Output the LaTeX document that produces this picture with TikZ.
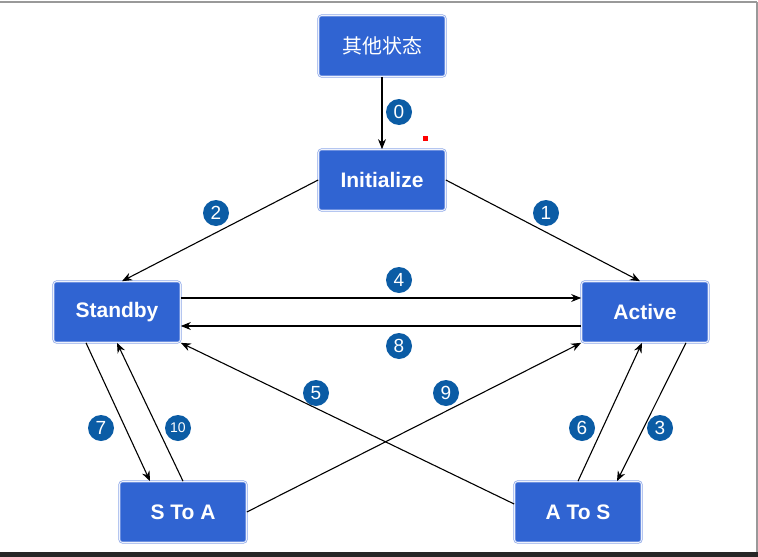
\documentclass[tikz,border=0pt]{standalone}
\usepackage{fontspec}
\setmainfont{Liberation Sans}
\newfontfamily\cjk{Noto Sans CJK SC}
\usetikzlibrary{arrows.meta}
\definecolor{boxblue}{HTML}{3064D2}
\definecolor{boxedge}{HTML}{8EA8E8}
\definecolor{tagblue}{HTML}{0B5CA5}
\tikzset{
  state/.style={rectangle, rounded corners=3pt, fill=boxblue, draw=boxedge,
    line width=0.7pt, double=white!85!boxedge, double distance=0.7pt,
    minimum width=127pt, minimum height=61pt, inner sep=0pt,
    text=white, font=\fontsize{21}{24}\selectfont\bfseries},
  tag/.style={circle, fill=tagblue, text=white, inner sep=0pt,
    minimum size=26pt, font=\fontsize{19}{20}\selectfont},
  conn/.style={line width=1.1pt, -{Stealth[length=10pt,width=8pt]}}
}
\begin{document}
\begin{tikzpicture}[x=1pt,y=-1pt]
\useasboundingbox (0,0) rectangle (758,557);
\fill[white] (0,0) rectangle (758,557);
% frame
\draw[gray!80, line width=1.5pt] (0,2) -- (757,2);
\draw[gray!80, line width=1.5pt] (757,2) -- (757,552);
\fill[black!85] (0,552) rectangle (758,557);
% nodes
\node[state, font=\cjk\fontsize{20}{22}\selectfont] (other) at (382,46) {其他状态};
\node[state] (init) at (382,180) {Initialize};
\node[state] (standby) at (117,312) {Standby};
\node[state] (active) at (645,312) {Active};
\node[state] (stoa) at (183,512) {S To A};
\node[state] (atos) at (578,512) {A To S};
% connectors
\draw[conn] (other.south) -- (init.north);
\draw[conn] (init.east) -- ([xshift=-5pt]active.north);
\draw[conn] (init.west) -- ([xshift=5pt]standby.north);
\draw[conn] ([yshift=14pt]standby.east) -- ([yshift=14pt]active.west);
\draw[conn] ([yshift=-14pt]active.west) -- ([yshift=-14pt]standby.east);
\draw[conn] ([yshift=8pt]atos.west) -- (standby.south east);
\draw[conn] (stoa.east) -- (active.south west);
\draw[conn] ([xshift=-31pt]standby.south) -- ([xshift=-33pt]stoa.north);
\draw[conn] (stoa.north) -- (standby.south);
\draw[conn] (atos.north) -- ([xshift=-3pt]active.south);
\draw[conn] ([xshift=41pt]active.south) -- ([xshift=39pt]atos.north);
% tags
\node[tag] (t0) at (399,112) {0};
\node[tag] (t1) at (546,213) {1};
\node[tag] (t2) at (216,213) {2};
\node[tag] (t4) at (399,280) {4};
\node[tag] (t8) at (399,346) {8};
\node[tag] (t5) at (316,393) {5};
\node[tag] (t9) at (446,393) {9};
\node[tag] (t7) at (101,428) {7};
\node[tag, font=\fontsize{14}{15}\selectfont] (t10) at (178,428) {10};
\node[tag] (t6) at (582,428) {6};
\node[tag] (t3) at (660,428) {3};
% red mark
\fill[red] (423,136) rectangle (428,141);
\end{tikzpicture}
\end{document}
